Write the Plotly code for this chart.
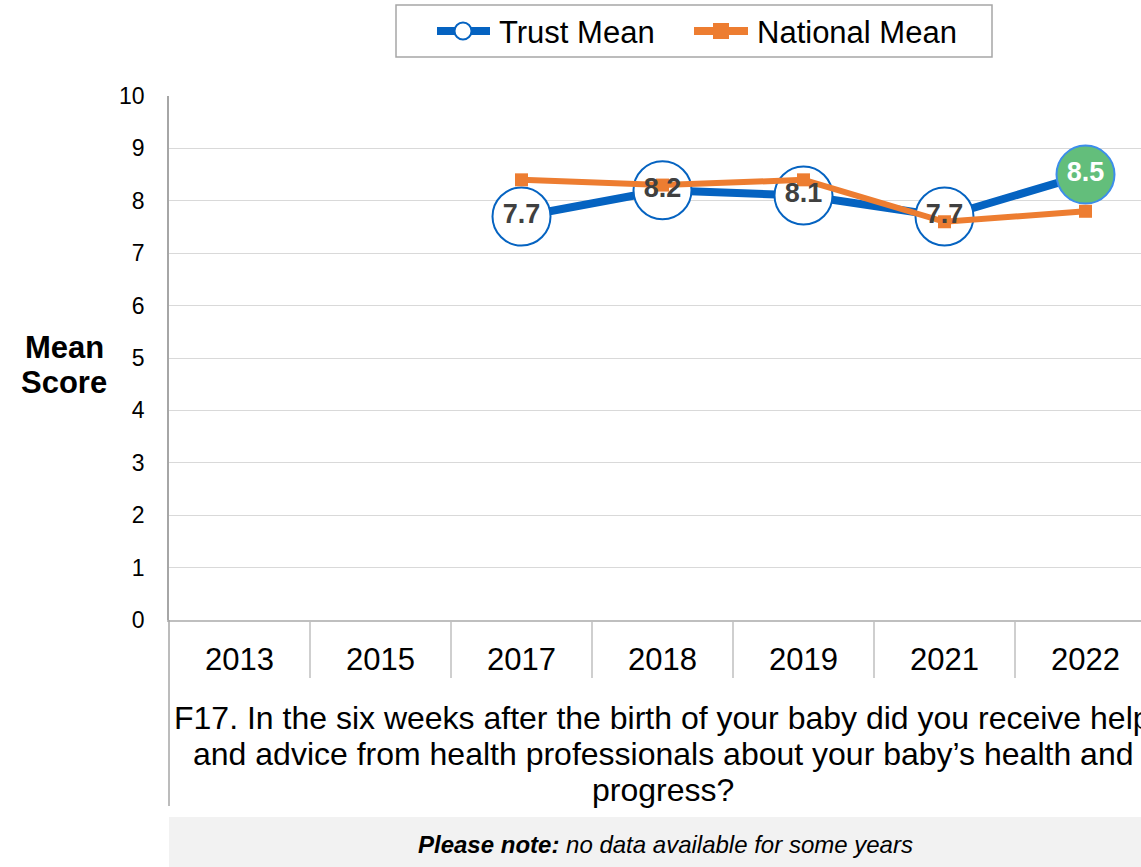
import plotly.graph_objects as go

# Survey years and mean scores
years = ["2013", "2015", "2017", "2018", "2019", "2021", "2022"]
trust_mean = [None, None, 7.7, 8.2, 8.1, 7.7, 8.5]
national_mean = [None, None, 8.4, 8.3, 8.4, 7.6, 7.8]

question_lines = [
    "F17. In the six weeks after the birth of your baby did you receive help",
    "and advice from health professionals about your baby\u2019s health and",
    "progress?",
]
series_names = ["Trust Mean", "National Mean"]

FONT = "Liberation Sans, Arial, sans-serif"
BLUE = "#0563C1"
ORANGE = "#ED7D31"
GREEN = "#63BE7B"

W, H = 1141, 867
L, T, B = 169, 96, 247
plot_h = H - T - B


def py(px):
    """Pixel row -> paper y."""
    return (H - B - px) / plot_h


def px_x(px):
    """Pixel column -> paper x."""
    return (px - L) / (W - L)


# highlight the latest year
n = len(years)
fill = ["white"] * (n - 1) + [GREEN]
edge = [BLUE] * (n - 1) + ["#3C8DEB"]
label_col = ["#404040"] * (n - 1) + ["white"]
labels = ["" if v is None else f"{v:.1f}" for v in trust_mean]

fig = go.Figure()
fig.add_trace(go.Scatter(
    x=years, y=trust_mean, name=series_names[0], mode="lines+markers",
    line=dict(color=BLUE, width=8),
    marker=dict(symbol="circle", size=58, color=fill, line=dict(color=edge, width=2)),
    hoverinfo="skip",
))
fig.add_trace(go.Scatter(
    x=years, y=national_mean, name=series_names[1], mode="lines+markers",
    line=dict(color=ORANGE, width=6),
    marker=dict(symbol="square", size=13, color=ORANGE),
    hoverinfo="skip",
))
fig.add_trace(go.Scatter(
    x=years, y=trust_mean, mode="text", text=labels, textposition="middle center",
    textfont=dict(family=FONT, size=27, color=label_col, weight="bold"),
    showlegend=False, hoverinfo="skip",
))

shapes = []
# category separators below the axis
for i in range(n):
    shapes.append(dict(type="line", xref="x", yref="paper", x0=i + 0.5, x1=i + 0.5,
                       y0=0, y1=py(678), line=dict(color="#BFBFBF", width=1.5)))
# left border running down past the question text
shapes.append(dict(type="line", xref="paper", yref="paper", x0=0, x1=0,
                   y0=0, y1=py(806), line=dict(color="#A6A6A6", width=1.5)))
# note band
shapes.append(dict(type="rect", xref="paper", yref="paper", x0=0, x1=1,
                   y0=py(817), y1=py(870), fillcolor="#F2F2F2", line=dict(width=0),
                   layer="below"))

# legend box with its two keys
shapes.append(dict(type="rect", xref="paper", yref="paper", x0=px_x(396), x1=px_x(992),
                   y0=py(57), y1=py(5), fillcolor="white",
                   line=dict(color="#A6A6A6", width=1.5)))
shapes.append(dict(type="line", xref="paper", yref="paper", x0=px_x(437), x1=px_x(490),
                   y0=py(31), y1=py(31), line=dict(color=BLUE, width=8)))
shapes.append(dict(type="circle", xref="paper", yref="paper",
                   x0=px_x(454.5), x1=px_x(471.5), y0=py(39.5), y1=py(22.5),
                   fillcolor="white", line=dict(color=BLUE, width=2)))
shapes.append(dict(type="line", xref="paper", yref="paper", x0=px_x(694), x1=px_x(748),
                   y0=py(31), y1=py(31), line=dict(color=ORANGE, width=8)))
shapes.append(dict(type="rect", xref="paper", yref="paper",
                   x0=px_x(713), x1=px_x(729), y0=py(39), y1=py(23),
                   fillcolor=ORANGE, line=dict(width=0)))

annotations = []
for name, xl in zip(series_names, [497, 755]):
    annotations.append(dict(text=name, xref="paper", yref="paper", x=px_x(xl), y=py(32),
                            xanchor="left", yanchor="middle", showarrow=False,
                            font=dict(family=FONT, size=31, color="black")))

for line, yc in zip(question_lines, [718, 754, 790]):
    annotations.append(dict(text=line, xref="paper", yref="paper", x=px_x(662.5), y=py(yc),
                            xanchor="center", yanchor="middle", showarrow=False,
                            font=dict(family=FONT, size=32, color="black")))

annotations += [
    dict(text="<b><i>Please note:</i></b><i> no data available for some years</i>",
         xref="paper", yref="paper", x=px_x(665), y=py(844),
         xanchor="center", yanchor="middle", showarrow=False,
         font=dict(family=FONT, size=24, color="black")),
    dict(text="<b>Mean</b>", xref="paper", yref="paper", x=px_x(64), y=py(347),
         xanchor="center", yanchor="middle", showarrow=False,
         font=dict(family=FONT, size=31, color="black")),
    dict(text="<b>Score</b>", xref="paper", yref="paper", x=px_x(64), y=py(383),
         xanchor="center", yanchor="middle", showarrow=False,
         font=dict(family=FONT, size=31, color="black")),
]

cat_w = 141.0
fig.update_layout(
    width=W, height=H,
    margin=dict(l=L, r=0, t=T, b=B, pad=0),
    paper_bgcolor="white", plot_bgcolor="white",
    font=dict(family=FONT, color="black"),
    showlegend=False,
    xaxis=dict(
        type="category", categoryorder="array", categoryarray=years,
        range=[-0.5, -0.5 + (W - L) / cat_w],
        showgrid=False, zeroline=False,
        showline=True, linecolor="#BFBFBF", linewidth=1.5,
        ticks="outside", ticklen=11, tickcolor="rgba(0,0,0,0)",
        tickfont=dict(family=FONT, size=31, color="black"),
    ),
    yaxis=dict(
        range=[0, 10], tickmode="linear", tick0=0, dtick=1,
        showgrid=True, gridcolor="#D9D9D9", gridwidth=1,
        zeroline=False, showline=True, linecolor="#A6A6A6", linewidth=1.5,
        ticks="outside", ticklen=18, tickcolor="rgba(0,0,0,0)",
        tickfont=dict(family=FONT, size=23, color="black"),
    ),
    shapes=shapes, annotations=annotations,
)

fig.write_html("out.html")
